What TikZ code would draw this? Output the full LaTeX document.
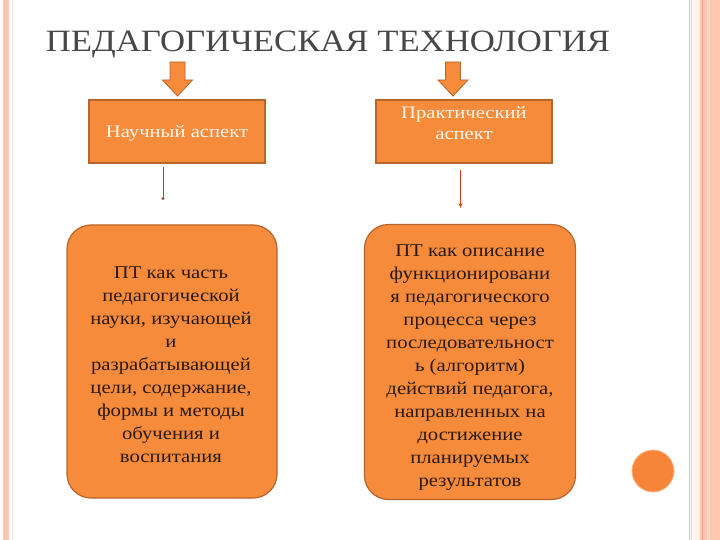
\documentclass[tikz,border=0pt]{standalone}
\usepackage{fontspec}
\setmainfont{Liberation Serif}
\newfontfamily\wideserif[FakeStretch=1.12]{Liberation Serif}
\newfontfamily\widebody[FakeStretch=1.15]{Liberation Serif}
\newfontfamily\wideaspect[FakeStretch=1.18]{Liberation Serif}
\usetikzlibrary{arrows.meta}
\definecolor{orfill}{HTML}{F68B3C}
\definecolor{ordraw}{HTML}{B8652C}
\definecolor{titlec}{HTML}{474747}
\definecolor{bodyc}{HTML}{2A1A10}
\definecolor{pinkb}{HTML}{FFC6B0}
\definecolor{pinkd}{HTML}{F4A088}
\definecolor{creamb}{HTML}{FFF6EA}
\definecolor{lineb}{HTML}{E6C6B6}
\begin{document}
\begin{tikzpicture}[x=1pt,y=-1pt,
  aspectbox/.style={draw=ordraw,line width=1.2pt,fill=orfill,minimum width=176pt,minimum height=63pt,inner sep=0pt},
  aspecttext/.style={text=creamb,font=\wideaspect\fontsize{17.5}{21}\selectfont,align=center,inner sep=0pt},
  bigbox/.style={draw=ordraw,line width=1.2pt,fill=orfill,rounded corners=24pt,inner sep=0pt},
  bigtext/.style={text=bodyc,font=\widebody\fontsize{18}{23}\selectfont,align=center,inner sep=0pt},
  blockarrow/.style={fill=orfill,draw=ordraw,line width=0.8pt},
  thin/.style={draw=ordraw!80!black,line width=1pt}]
\useasboundingbox (0,0) rectangle (720,540);
\fill[white] (0,0) rectangle (720,540);
% borders
\fill[pinkb] (3,0) rectangle (9,540);
\draw[lineb!60,line width=0.8pt] (12,0) -- (12,540);
\draw[lineb,line width=1pt] (689.5,0) -- (689.5,540);
\draw[lineb!80,line width=0.8pt] (691.8,0) -- (691.8,540);
\fill[creamb] (693,0) rectangle (700,540);
\fill[pinkb] (700,0) rectangle (720,540);
\draw[pinkd,line width=1.5pt] (702.5,0) -- (702.5,540);
\fill[pinkb!70] (707,0) rectangle (710,540);
% title
\node[text=titlec,font=\wideserif\fontsize{31}{36}\selectfont,anchor=base] (title) at (328,52) {ПЕДАГОГИЧЕСКАЯ ТЕХНОЛОГИЯ};
% aspect boxes
\node[aspectbox] (sci) at (177,131.5) {};
\node[aspecttext] (scit) at (177,133) {Научный аспект};
\node[aspectbox] (pra) at (464,131.5) {};
\node[aspecttext] (prat) at (464,123.5) {Практический\\аспект};
% block arrows
\draw[blockarrow] (170,62) -- (185,62) -- (185,80) -- (192.5,80) -- (177.5,96) -- (162.5,80) -- (170,80) -- cycle;
\draw[blockarrow] (445.5,62) -- (460.5,62) -- (460.5,80) -- (468,80) -- (453,96) -- (438,80) -- (445.5,80) -- cycle;
% big boxes
\node[bigbox,minimum width=210pt,minimum height=273pt] (left) at (172,361.5) {};
\node[bigtext] (leftt) at (171,365)
 {ПТ как часть\\педагогической\\науки, изучающей\\и\\разрабатывающей\\цели, содержание,\\формы и методы\\обучения и\\воспитания};
\node[bigbox,minimum width=211pt,minimum height=275pt] (right) at (470,362) {};
\node[bigtext] (rightt) at (470,368)
 {ПТ как описание\\функционировани\\я педагогического\\процесса через\\последовательност\\ь (алгоритм)\\действий педагога,\\направленных на\\достижение\\планируемых\\результатов};
% thin connectors
\coordinate (l1) at (163,167);
\coordinate (l2) at (163,200);
\draw[thin,-{Circle[length=3pt]}] (l1) -- (l2);
\coordinate (r1) at (460.5,170);
\coordinate (r2) at (460.5,208);
\draw[draw=ordraw!60!red,line width=0.8pt,-{Stealth[length=5pt,width=4pt]}] (r1) -- (r2);
% circle
\node[circle,fill=orfill!95!red,draw=orfill!60,line width=0.8pt,minimum size=42pt,inner sep=0pt] (dot) at (653,471) {};
\end{tikzpicture}
\end{document}
